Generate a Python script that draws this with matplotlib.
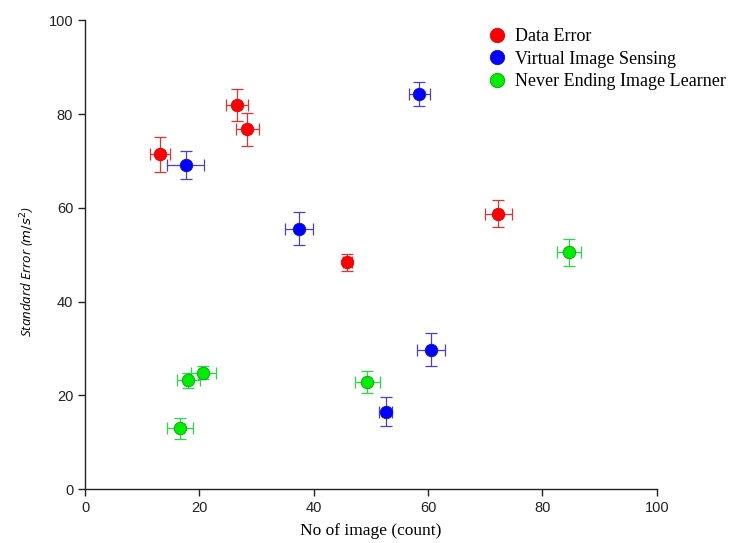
import matplotlib.pyplot as plt

# Data Error
red_x = [13.1, 26.6, 28.4, 45.9, 72.3]
red_y = [71.4, 81.9, 76.8, 48.4, 58.8]
red_xerr = [1.75, 1.9, 2.0, 0.8, 2.4]
red_yerr = [3.7, 3.4, 3.5, 1.8, 2.8]

# Virtual Image Sensing
blue_x = [17.6, 37.4, 58.5, 60.5, 52.6]
blue_y = [69.1, 55.6, 84.3, 29.8, 16.5]
blue_xerr = [3.2, 2.4, 1.9, 2.45, 1.1]
blue_yerr = [3.0, 3.5, 2.5, 3.5, 3.1]

# Never Ending Image Learner
green_x = [16.6, 18.1, 20.7, 49.4, 84.7]
green_y = [13.0, 23.3, 24.9, 22.9, 50.5]
green_xerr = [2.3, 2.0, 2.2, 2.2, 2.1]
green_yerr = [2.2, 1.6, 1.4, 2.3, 2.8]

ticks = [0, 20, 40, 60, 80, 100]

fig = plt.figure(figsize=(7.31, 5.43), dpi=100)
ax = fig.add_axes([0.1163, 0.0989, 0.7821, 0.8637])

series = [
    (red_x, red_y, red_xerr, red_yerr, '#ff0000', '#e8302e', '#e00000', 'Data Error'),
    (blue_x, blue_y, blue_xerr, blue_yerr, '#0000ff', '#4a3fc8', '#1010d0', 'Virtual Image Sensing'),
    (green_x, green_y, green_xerr, green_yerr, '#00ee00', '#22dd44', '#00a000', 'Never Ending Image Learner'),
]
for x, y, xe, ye, fc, ec, mec, lab in series:
    ax.errorbar(x, y, xerr=xe, yerr=ye, fmt='none', ecolor=ec, elinewidth=0.9,
                capsize=4.3, capthick=0.9, zorder=2)
    ax.plot(x, y, 'o', ms=9, mfc=fc, mec=mec, mew=0.6, ls='none', label=lab, zorder=3)

ax.set_xlim(0, 100)
ax.set_ylim(0, 100)
ax.set_xticks(ticks)
ax.set_yticks(ticks)
for s in ['top', 'right']:
    ax.spines[s].set_visible(False)
for s in ['left', 'bottom']:
    ax.spines[s].set_linewidth(1.0)
    ax.spines[s].set_color('#222222')
ax.tick_params(direction='out', length=5, width=1.0, color='#222222',
               labelsize=10.5, labelcolor='#222222')
for lb in ax.get_xticklabels() + ax.get_yticklabels():
    lb.set_family('Liberation Sans')

ax.set_xlabel('No of image (count)', family='Liberation Serif', fontsize=12.5, labelpad=6)
ax.set_ylabel('Standard Error ($m/s^2$)', family='Open Sans', style='italic',
              fontsize=9.5)
ax.yaxis.set_label_coords(-0.084, 0.465)

leg = ax.legend(loc='upper left', bbox_to_anchor=(0.676, 1.018), frameon=False,
                prop={'family': 'Liberation Serif', 'size': 13},
                handletextpad=0.5, labelspacing=0.3, handlelength=1.0, markerscale=1.15)

fig.savefig('out.png', dpi=100)
